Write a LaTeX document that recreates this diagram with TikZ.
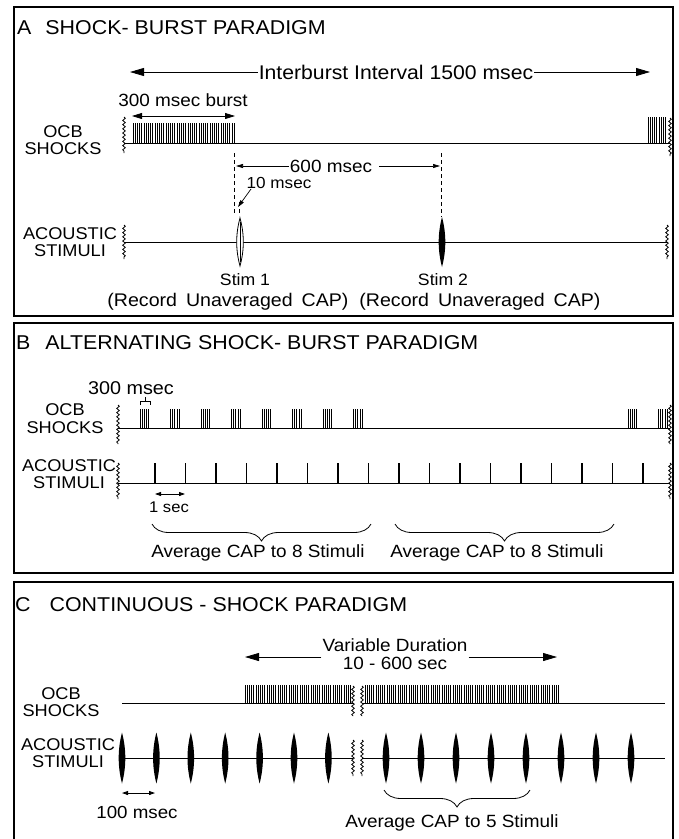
\documentclass[tikz,border=0pt]{standalone}
\usepackage{fontspec}
\setmainfont{Liberation Sans}[FakeStretch=1.07]
\usetikzlibrary{arrows.meta,decorations.pathmorphing,decorations.pathreplacing}
\newcommand{\stimlens}[4]{\path[#4] (#1,#2-#3) .. controls (#1+4.4,#2-#3/3) and (#1+4.4,#2+#3/3) .. (#1,#2+#3) .. controls (#1-4.4,#2+#3/3) and (#1-4.4,#2-#3/3) .. cycle;}
\tikzset{
  panelbox/.style={line width=1.1pt},
  ttl/.style={anchor=west, inner sep=0pt, font=\fontsize{20}{24}\selectfont},
  lbl/.style={align=center, inner sep=0pt, font=\fontsize{17}{17.5}\selectfont},
  ftxt/.style={inner sep=1pt, font=\fontsize{17.7}{18}\selectfont},
  stxt/.style={inner sep=1pt, font=\fontsize{16}{18}\selectfont},
  baseln/.style={line width=1pt},
  wavy/.style={decorate, decoration={snake, segment length=4.2pt, amplitude=1.3pt}, line width=0.8pt},
  arrL/.style={-{Triangle[length=14pt,width=8pt]}, line width=0.8pt},
  arrM/.style={{Triangle[length=10pt,width=6pt]}-{Triangle[length=10pt,width=6pt]}, line width=0.8pt},
  arrS/.style={-{Triangle[length=7pt,width=4pt]}, line width=0.7pt},
  arrSS/.style={{Triangle[length=6pt,width=4pt]}-{Triangle[length=6pt,width=4pt]}, line width=0.8pt},
  spike/.style={line width=0.9pt},
  stimtick/.style={line width=1.4pt},
  brc/.style={decorate, decoration={brace, mirror, amplitude=17pt}, line width=0.8pt},
  dsh/.style={dashed, dash pattern=on 4pt off 3pt, line width=0.7pt}
}
\begin{document}
\begin{tikzpicture}[x=1pt,y=-1pt]
\useasboundingbox (0,0) rectangle (679,839);
\fill[white] (0,0) rectangle (679,839);

% ================= Panel A =================
\draw[panelbox] (14,7) rectangle (673,316);
\node[ttl] (tA) at (17,28) {A\hspace{14pt}SHOCK- BURST PARADIGM};

\node[inner sep=1pt, font=\fontsize{19.8}{20}\selectfont] (ibi) at (396,72) {Interburst Interval 1500 msec};
\coordinate (ibiL) at (130,72);
\coordinate (ibiR) at (650,72);
\draw[arrL] (ibi.west) -- (ibiL);
\draw[arrL] (ibi.east) -- (ibiR);

\node[ftxt] (b300) at (183,100) {300 msec burst};
\coordinate (bA1) at (132,116);
\coordinate (bA2) at (235,116);
\draw[arrM] (bA1) -- (bA2);

\node[lbl] (ocbA) at (63,140) {OCB\\SHOCKS};
\coordinate (oA1) at (124,143);
\coordinate (oA2) at (670,143);
\draw[baseln] (oA1) -- (oA2);
\draw[wavy] (124,117) -- (124,153);
\draw[wavy] (670,118) -- (670,156);
\foreach \x in {133,135.2,...,236} \draw[spike] (\x,143) -- (\x,123);
\foreach \x in {648,650.2,...,667} \draw[spike] (\x,143) -- (\x,117);

% dashed markers
\coordinate (dA1) at (234.5,153);
\coordinate (dA1b) at (234.5,214);
\coordinate (dA2) at (239,202);
\coordinate (dA2b) at (239,216);
\coordinate (dB1) at (441,153);
\coordinate (dB1b) at (441,217);
\draw[dsh] (dA1) -- (dA1b);
\draw[dsh] (dA2) -- (dA2b);
\draw[dsh] (dB1) -- (dB1b);

\node[ftxt] (s600) at (331,166) {600 msec};
\coordinate (s600L) at (236,166);
\coordinate (s600R) at (440,166);
\draw[arrS] (s600.west) -- (s600L);
\draw[arrS] (s600.east) ++(6,0) -- (s600R);

\node[stxt] (t10) at (279,183) {10 msec};
\coordinate (t10a) at (251,189);
\coordinate (t10b) at (238,207);
\draw[arrS] (t10a) -- (t10b);

\node[lbl] (acA) at (70,242) {ACOUSTIC\\STIMULI};
\coordinate (aA1) at (124,242);
\coordinate (aA2) at (667,242);
\draw[baseln] (aA1) -- (aA2);
\draw[wavy] (124,225) -- (124,259);
\draw[wavy] (667,225) -- (667,259);
\stimlens{240}{242}{24}{draw, fill=white, line width=0.8pt}
\draw[line width=0.8pt] (240,222) -- (240,262);
\stimlens{442}{242}{25}{fill=black}

\node[stxt, font=\fontsize{16.5}{18}\selectfont] (st1) at (245,280) {Stim 1};
\node[stxt, font=\fontsize{16.5}{18}\selectfont] (st2) at (443,280) {Stim 2};
\node[ftxt, font=\fontsize{18.3}{18}\selectfont] (rec1) at (228,302) {(Record\hspace{9pt}Unaveraged\hspace{9pt}CAP)};
\node[ftxt, font=\fontsize{18.3}{18}\selectfont] (rec2) at (480,302) {(Record\hspace{9pt}Unaveraged\hspace{9pt}CAP)};

% ================= Panel B =================
\draw[panelbox] (14,323) rectangle (673,573);
\node[ttl] (tB) at (16,343) {B\hspace{15pt}ALTERNATING SHOCK- BURST PARADIGM};

\node[ftxt, font=\fontsize{18.5}{18}\selectfont] (b300B) at (131,388) {300 msec};
\coordinate (brk1) at (140,405);
\coordinate (brk2) at (150,405);
\draw[line width=0.7pt] (brk1) -- ++(0,-4) -| (brk2);
\draw[line width=0.7pt] (145,401) -- (145,397);

\node[lbl] (ocbB) at (65,418.5) {OCB\\SHOCKS};
\coordinate (oB1) at (118,428);
\coordinate (oB2) at (670,428);
\draw[baseln] (oB1) -- (oB2);
\draw[wavy] (118,405) -- (118,444);
\draw[wavy] (670,405) -- (670,444);
\foreach \i in {0,...,7,16,17} {
  \foreach \d in {0,2.2,4.4,6.6,8.8} \draw[spike] (140+30.5*\i+\d,428) -- (140+30.5*\i+\d,409);
}

\node[lbl] (acB) at (69,474) {ACOUSTIC\\STIMULI};
\coordinate (aB1) at (118,483);
\coordinate (aB2) at (670,483);
\draw[baseln] (aB1) -- (aB2);
\draw[wavy] (118,463) -- (118,499);
\draw[wavy] (670,463) -- (670,499);
\foreach \i in {0,...,16} \draw[stimtick] (155+30.5*\i,483) -- (155+30.5*\i,463);

\coordinate (sec1a) at (155,494);
\coordinate (sec1b) at (185,494);
\draw[arrSS] (sec1a) -- (sec1b);
\node[stxt, font=\fontsize{15.5}{16}\selectfont] (sec1) at (169,507) {1 sec};

\coordinate (brB1a) at (152,524);
\coordinate (brB1b) at (371,524);
\coordinate (brB2a) at (395,524);
\coordinate (brB2b) at (614,524);
\draw[brc] (brB1a) -- (brB1b);
\draw[brc] (brB2a) -- (brB2b);
\node[ftxt] (avg1) at (258,553) {Average CAP to 8 Stimuli};
\node[ftxt] (avg2) at (497,553) {Average CAP to 8 Stimuli};

% ================= Panel C =================
\draw[panelbox] (14,842) -- (14,582) -- (673,582) -- (673,842);
\node[ttl] (tC) at (15,605) {C\hspace{19pt}CONTINUOUS - SHOCK PARADIGM};

\node[ftxt, align=center, font=\fontsize{17.7}{18.5}\selectfont] (vd) at (395,654) {Variable Duration\\10 - 600 sec};
\coordinate (vdL) at (245,657);
\coordinate (vdR) at (557,657);
\draw[arrL] (vd.west |- vdL) -- (vdL);
\draw[arrL] (vd.east |- vdR) -- (vdR);

\node[lbl] (ocbC) at (61,702) {OCB\\SHOCKS};
\coordinate (oC1) at (122,703);
\coordinate (oC2) at (353,703);
\coordinate (oC3) at (362,703);
\coordinate (oC4) at (665,703);
\draw[baseln] (oC1) -- (oC2);
\draw[baseln] (oC3) -- (oC4);
\foreach \x in {245,247.2,...,351} \draw[spike] (\x,703) -- (\x,685);
\foreach \x in {365,367.2,...,560} \draw[spike] (\x,703) -- (\x,685);
\draw[wavy] (353,686) -- (353,716);
\draw[wavy] (362,686) -- (362,716);

\node[lbl] (acC) at (68,753) {ACOUSTIC\\STIMULI};
\coordinate (aC1) at (122,758);
\coordinate (aC2) at (353,758);
\coordinate (aC3) at (362,758);
\coordinate (aC4) at (665,758);
\draw[baseln] (aC1) -- (aC2);
\draw[baseln] (aC3) -- (aC4);
\draw[wavy] (353,740) -- (353,776);
\draw[wavy] (362,740) -- (362,776);
\foreach \x in {122,156.4,190.8,225.2,259.6,294,328.4,386,421,456,491,526,561,596,631}
  \stimlens{\x}{758}{25.5}{fill=black};

\coordinate (ms1a) at (122,793);
\coordinate (ms1b) at (155,793);
\draw[arrSS] (ms1a) -- (ms1b);
\node[ftxt, font=\fontsize{17.5}{18}\selectfont] (ms100) at (137,812) {100 msec};

\coordinate (brCa) at (384,790);
\coordinate (brCb) at (530,790);
\draw[brc] (brCa) -- (brCb);
\node[ftxt] (avg5) at (452,823) {Average CAP to 5 Stimuli};
\end{tikzpicture}
\end{document}
